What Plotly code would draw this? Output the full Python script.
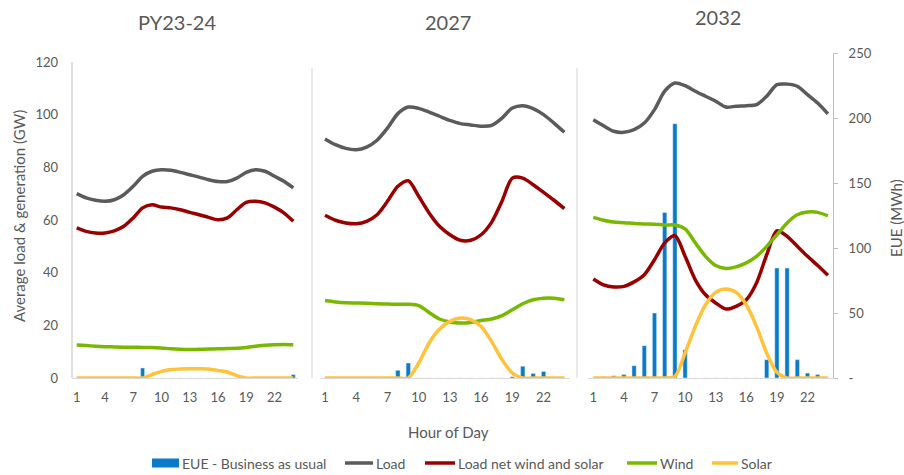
import plotly.graph_objects as go

hours = list(range(1, 25))
tick_hours = [1, 4, 7, 10, 13, 16, 19, 22]
panel_titles = ["PY23-24", "2027", "2032"]

# ---- PY23-24 ----
load_1 = [70.0, 68.4, 67.5, 67.1, 67.7, 69.6, 72.8, 76.6, 78.5, 79.1, 78.9, 78.1,
          77.2, 76.3, 75.3, 74.6, 74.6, 75.9, 78.1, 79.1, 78.5, 76.6, 74.7, 72.2]
net_1 = [57.0, 55.7, 55.1, 55.1, 55.9, 57.6, 60.8, 64.6, 65.8, 64.9, 64.6, 63.9,
         62.9, 62.0, 61.0, 60.1, 60.8, 63.9, 66.7, 67.1, 66.5, 64.9, 62.7, 59.5]
wind_1 = [12.5, 12.3, 12.1, 11.9, 11.8, 11.7, 11.7, 11.6, 11.6, 11.4, 11.1, 10.9,
          10.8, 10.9, 11.0, 11.1, 11.2, 11.3, 11.6, 12.1, 12.4, 12.6, 12.7, 12.6]
solar_1 = [0, 0, 0, 0, 0, 0, 0, 0, 1.3, 2.5, 3.2, 3.4,
           3.5, 3.5, 3.4, 2.9, 2.3, 0.9, 0, 0, 0, 0, 0, 0]
eue_1 = [0, 0.5, 0, 0, 0, 0, 0, 7.7, 0, 0, 0, 0,
         0, 0, 0, 0, 0, 0, 0, 0, 0, 0, 0, 2.6]

# ---- 2027 ----
load_2 = [90.8, 88.6, 87.2, 86.7, 87.7, 90.3, 94.9, 100.4, 102.9, 102.4, 101.0, 99.4,
          97.8, 96.6, 96.1, 95.6, 95.9, 98.7, 102.5, 103.4, 102.3, 100.0, 96.8, 93.3]
net_2 = [61.8, 59.9, 58.9, 58.6, 59.5, 62.0, 67.1, 72.8, 74.9, 69.0, 62.7, 57.6,
         54.4, 52.3, 52.3, 54.4, 59.1, 67.1, 75.9, 75.9, 73.4, 70.5, 67.5, 64.3]
wind_2 = [29.4, 28.9, 28.6, 28.5, 28.4, 28.2, 28.1, 28.0, 28.0, 27.5, 24.9, 22.4,
          21.3, 20.9, 21.1, 21.8, 22.4, 23.7, 25.9, 28.2, 29.7, 30.3, 30.3, 29.7]
solar_2 = [0, 0, 0, 0, 0, 0, 0, 0, 0, 5.7, 13.3, 18.6,
           21.5, 22.8, 22.2, 19.6, 13.9, 7.0, 1.9, 0, 0, 0, 0, 0]
eue_2 = [0, 0, 0, 0, 0, 0, 0, 5.9, 11.5, 0, 0, 0,
         0, 0, 0, 0, 0, 0, 1.0, 9.0, 3.5, 5.0, 0, 0]

# ---- 2032 ----
load_3 = [98.1, 95.8, 93.7, 93.3, 94.3, 96.8, 101.9, 108.9, 112.0, 111.0, 108.9, 107.0,
          105.1, 102.9, 103.2, 103.4, 103.8, 107.0, 111.4, 111.6, 110.8, 107.6, 104.4, 100.3]
net_3 = [37.6, 35.4, 34.6, 34.8, 36.5, 39.2, 44.9, 51.3, 54.1, 46.2, 37.3, 31.6,
         28.5, 26.2, 27.2, 29.7, 36.1, 46.8, 55.9, 53.8, 50.0, 46.2, 42.7, 39.0]
wind_3 = [61.0, 59.9, 59.2, 59.0, 58.7, 58.5, 58.4, 58.1, 58.1, 56.6, 51.3, 46.2,
          42.7, 41.6, 42.2, 43.7, 46.2, 50.0, 54.4, 58.9, 62.0, 63.0, 62.9, 61.6]
solar_3 = [0, 0, 0, 0, 0, 0, 0, 0, 0.6, 9.5, 19.6, 27.8,
           32.5, 33.8, 32.5, 27.8, 19.6, 9.5, 2.2, 0, 0, 0, 0, 0]
eue_3 = [0, 1.0, 1.8, 2.6, 9.5, 24.9, 50.0, 127.4, 195.6, 21.8, 0, 0,
         0, 0, 0, 0, 0, 14.1, 84.6, 84.6, 14.1, 3.8, 2.6, 0]

gw_ticks = [0, 20, 40, 60, 80, 100, 120]
eue_ticks = [0, 50, 100, 150, 200, 250]
eue_ticktext = ["-", "50", "100", "150", "200", "250"]

series_names = ["EUE - Business as usual", "Load", "Load net wind and solar", "Wind", "Solar"]

panels = [
    (load_1, net_1, wind_1, solar_1, eue_1),
    (load_2, net_2, wind_2, solar_2, eue_2),
    (load_3, net_3, wind_3, solar_3, eue_3),
]

C_EUE = "#0a7bc9"
C_LOAD = "#5b5b5b"
C_NET = "#990000"
C_WIND = "#78b800"
C_SOLAR = "#ffc23a"
TXT = "#595959"
FONT = "Lato"

W, H = 904, 475
def px(x):
    return x / W
def py(y):
    return (H - y) / H

x_domains = [[px(72), px(298)], [px(319.8), px(569.6)], [px(588.2), px(833)]]
y_bottom, y_top_eue, y_top_gw = 378, 53, 62
eue_range = [0, 250]
gw_top = 120 * (y_bottom - y_top_eue) / (y_bottom - y_top_gw)

fig = go.Figure()
xa = ["x", "x2", "x3"]
for i, (load, net, wind, solar, eue) in enumerate(panels):
    fig.add_trace(go.Bar(x=hours, y=eue, name=series_names[0], marker_color=C_EUE,
                         width=0.42, xaxis=xa[i], yaxis="y", showlegend=False))
for i, (load, net, wind, solar, eue) in enumerate(panels):
    for vals, name, col in [(load, series_names[1], C_LOAD), (net, series_names[2], C_NET),
                            (wind, series_names[3], C_WIND), (solar, series_names[4], C_SOLAR)]:
        fig.add_trace(go.Scatter(x=hours, y=vals, name=name, mode="lines",
                                 line=dict(color=col, width=3.5, shape="spline", smoothing=0.8),
                                 xaxis=xa[i], yaxis="y2", showlegend=False))

layout = dict(
    width=W, height=H, margin=dict(l=0, r=0, t=0, b=0, autoexpand=False),
    paper_bgcolor="white", plot_bgcolor="rgba(0,0,0,0)",
    font=dict(family=FONT, color=TXT, size=13),
    bargap=0.6, barmode="overlay",
    showlegend=False,
)
for i, name in enumerate(["xaxis", "xaxis2", "xaxis3"]):
    layout[name] = dict(domain=x_domains[i], range=[0.5, 24.5], anchor="y",
                        tickvals=tick_hours, ticks="", showgrid=False, zeroline=False,
                        showline=True, linecolor="#d9d9d9", linewidth=1,
                        tickfont=dict(size=13, color=TXT), ticklabelstandoff=7)
layout["yaxis"] = dict(domain=[py(y_bottom), py(y_top_eue)], range=eue_range, anchor="x3", side="right",
                       tickvals=eue_ticks, ticktext=eue_ticktext, showgrid=False, zeroline=False,
                       showline=True, linecolor="#bfbfbf", ticks="outside", ticklen=4,
                       tickcolor="#bfbfbf", tickfont=dict(size=13, color=TXT), ticklabelstandoff=8)
layout["yaxis2"] = dict(overlaying="y", range=[0, gw_top], anchor="x", side="left",
                        tickvals=gw_ticks, showgrid=False, zeroline=False, showline=False,
                        ticks="", tickfont=dict(size=13, color=TXT), ticklabelstandoff=13)
fig.update_layout(**layout)

shapes = [
    dict(type="line", xref="paper", yref="paper", x0=px(72), x1=px(72), y0=py(y_bottom), y1=py(y_top_gw),
         line=dict(color="#bfbfbf", width=1)),
    dict(type="line", xref="paper", yref="paper", x0=px(312), x1=px(312), y0=py(y_bottom), y1=py(68),
         line=dict(color="#e3e3e3", width=1.5)),
    dict(type="line", xref="paper", yref="paper", x0=px(577), x1=px(577), y0=py(y_bottom), y1=py(68),
         line=dict(color="#e3e3e3", width=1.5)),
]

# custom legend (symbol spans in pixels, text starts right after symbol)
legend_y = 463
legend_items = [
    (series_names[0], C_EUE, "rect", 152, 179),
    (series_names[1], C_LOAD, "line", 345, 373),
    (series_names[2], C_NET, "line", 425, 455),
    (series_names[3], C_WIND, "line", 627, 657),
    (series_names[4], C_SOLAR, "line", 712, 738),
]
ann = []
for name, col, kind, x0, x1 in legend_items:
    if kind == "rect":
        shapes.append(dict(type="rect", xref="paper", yref="paper", x0=px(x0), x1=px(x1),
                           y0=py(legend_y + 4.5), y1=py(legend_y - 4.5), fillcolor=col,
                           line=dict(width=0)))
    else:
        shapes.append(dict(type="line", xref="paper", yref="paper", x0=px(x0), x1=px(x1),
                           y0=py(legend_y), y1=py(legend_y), line=dict(color=col, width=3.5)))
    ann.append(dict(text=name, x=px(x1 + 1), y=py(legend_y), xref="paper", yref="paper",
                    showarrow=False, xanchor="left", yanchor="middle",
                    font=dict(size=14, color=TXT, family=FONT)))
fig.update_layout(shapes=shapes)

title_pos = [(177, 22), (448, 22), (718, 17)]
for t, (x, y) in zip(panel_titles, title_pos):
    ann.append(dict(text=t, x=px(x), y=py(y), xref="paper", yref="paper", showarrow=False,
                    xanchor="center", yanchor="middle", font=dict(size=20, color=TXT, family=FONT)))
ann.append(dict(text="Average load & generation (GW)", x=px(19), y=py(216), xref="paper", yref="paper",
                showarrow=False, textangle=-90, xanchor="center", yanchor="middle",
                font=dict(size=15, color=TXT, family=FONT)))
ann.append(dict(text="EUE (MWh)", x=px(896), y=py(218), xref="paper", yref="paper",
                showarrow=False, textangle=-90, xanchor="center", yanchor="middle",
                font=dict(size=15, color=TXT, family=FONT)))
ann.append(dict(text="Hour of Day", x=px(448), y=py(432), xref="paper", yref="paper",
                showarrow=False, xanchor="center", yanchor="middle",
                font=dict(size=15, color=TXT, family=FONT)))
fig.update_layout(annotations=ann)

fig.write_html("out.html")
